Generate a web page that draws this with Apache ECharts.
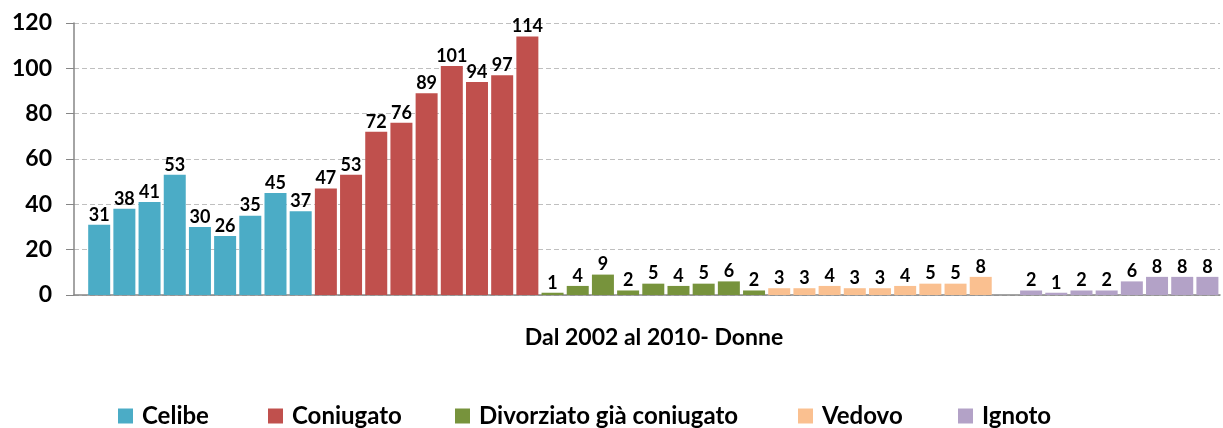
<!DOCTYPE html>
<html>
<head>
<meta charset="utf-8">
<script src="https://cdn.jsdelivr.net/npm/echarts@6/dist/echarts.min.js"></script>
<style>
  html, body { margin: 0; padding: 0; background: #fff; }
  #chart { width: 1223px; height: 428px; }
</style>
</head>
<body>
<div id="chart"></div>
<script>
// anni per ogni gruppo
const years = ['2002', '2003', '2004', '2005', '2006', '2007', '2008', '2009', '2010'];

// valori per stato civile
const celibe = [31, 38, 41, 53, 30, 26, 35, 45, 37];
const coniugato = [47, 53, 72, 76, 89, 101, 94, 97, 114];
const divorziato = [1, 4, 9, 2, 5, 4, 5, 6, 2];
const vedovo = [3, 3, 4, 3, 3, 4, 5, 5, 8];
const ignoto = [null, 2, 1, 2, 2, 6, 8, 8, 8];

const groupNames = ['Celibe', 'Coniugato', 'Divorziato già coniugato', 'Vedovo', 'Ignoto'];
const groupValues = [celibe, coniugato, divorziato, vedovo, ignoto];
const yTicks = [0, 20, 40, 60, 80, 100, 120];

const colors = ['#4BACC6', '#C0504D', '#77933C', '#FAC090', '#B3A2C7'];
const legendLeft = [118, 268, 455, 798, 958];
const font = 'Lato, "Open Sans", sans-serif';

const chart = echarts.init(document.getElementById('chart'));

const series = groupValues.map((vals, g) => ({
  name: groupNames[g],
  type: 'bar',
  barWidth: 22,
  barGap: '-100%',
  itemStyle: { color: colors[g] },
  label: {
    show: true,
    position: 'top',
    distance: 1,
    color: '#000',
    fontFamily: font,
    fontWeight: 'bold',
    fontSize: 18
  },
  // posizione = indice del gruppo * numero anni + indice anno
  data: vals.map((v, i) => [g * years.length + i, v])
}));

const legends = groupNames.map((n, g) => ({
  data: [n],
  left: legendLeft[g],
  top: 404,
  padding: 0,
  itemWidth: 15,
  itemHeight: 15,
  itemGap: 0,
  icon: 'rect',
  textStyle: { fontFamily: font, fontWeight: 'bold', fontSize: 24, color: '#000', padding: [0, 0, 0, 4] },
  selectedMode: false
}));

chart.setOption({
  animation: false,
  title: {
    text: 'Dal 2002 al 2010- Donne',
    left: 654,
    top: 326,
    padding: 0,
    textAlign: 'center',
    textStyle: { fontFamily: font, fontWeight: 'bold', fontSize: 23, color: '#000' }
  },
  legend: legends,
  grid: { left: 74, right: 3, top: 23, bottom: 133 },
  xAxis: {
    type: 'value',
    min: -1,
    max: groupNames.length * years.length - 0.5,
    axisLine: { show: true, onZero: false, lineStyle: { color: '#868686', width: 1.5 } },
    axisTick: { show: false },
    axisLabel: { show: false },
    splitLine: { show: false }
  },
  yAxis: {
    type: 'value',
    min: yTicks[0],
    max: yTicks[yTicks.length - 1],
    interval: 20,
    axisLine: { show: true, onZero: false, lineStyle: { color: '#868686', width: 1.5 } },
    axisTick: { show: true, length: 8, lineStyle: { color: '#868686' } },
    axisLabel: {
      margin: 22,
      color: '#000',
      fontFamily: font,
      fontWeight: 'bold',
      fontSize: 23
    },
    splitLine: { show: true, lineStyle: { color: '#BFBFBF', type: [5, 3], width: 1.2 } }
  },
  series: series
});
</script>
</body>
</html>
